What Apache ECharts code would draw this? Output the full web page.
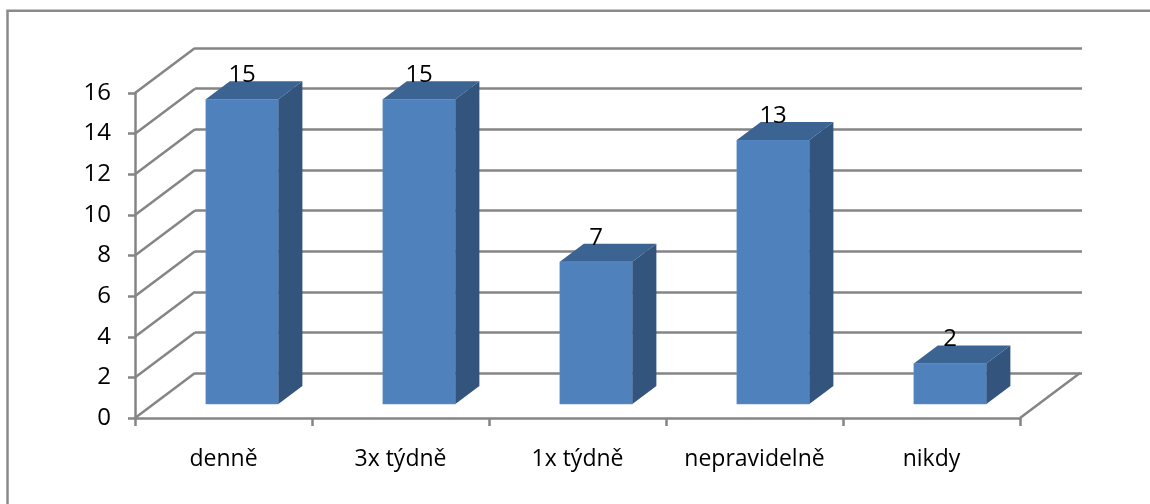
<!DOCTYPE html>
<html>
<head>
<meta charset="utf-8">
<script src="https://cdn.jsdelivr.net/npm/echarts@6/dist/echarts.min.js"></script>
<style>
  html, body { margin: 0; padding: 0; background: #fff; }
  #chart { width: 1150px; height: 504px; }
</style>
</head>
<body>
<div id="chart"></div>
<script>
var categories = ['denně', '3x týdně', '1x týdně', 'nepravidelně', 'nikdy'];
var values = [15, 15, 7, 13, 2];
var yTicks = [0, 2, 4, 6, 8, 10, 12, 14, 16];

// 3d look: depth of the floor and how far the bars sit inside it
var DEPTH_X = 60, DEPTH_Y = 45;
var BAR_FRONT = 0.31, BAR_DEPTH = 0.4, BAR_WIDTH = 0.41;
var GRID_COLOR = '#858585';
var LINE_W = 2.5;
var FONT = 'Open Sans';
var FONT_SIZE = 24;

var chart = echarts.init(document.getElementById('chart'));

function renderWall(params, api) {
  var cs = params.coordSys;
  var p = api.coord([0, api.value(0)]);
  var children = [{
    type: 'line',
    shape: { x1: cs.x, y1: p[1], x2: cs.x + DEPTH_X, y2: p[1] - DEPTH_Y },
    style: { stroke: GRID_COLOR, lineWidth: LINE_W }
  }];
  if (params.dataIndex === 0) {
    children.push({
      type: 'line',
      shape: { x1: cs.x + cs.width, y1: p[1], x2: cs.x + cs.width + DEPTH_X, y2: p[1] - DEPTH_Y },
      style: { stroke: GRID_COLOR, lineWidth: LINE_W }
    });
  }
  return { type: 'group', children: children };
}

function renderBar(params, api) {
  var top = api.coord([api.value(0), api.value(1)]);
  var base = api.coord([api.value(0), 0]);
  var cw = api.size([1, 0])[0];
  var bw = cw * BAR_WIDTH;
  var fx = top[0] - bw / 2 + BAR_FRONT * DEPTH_X;
  var fyTop = top[1] - BAR_FRONT * DEPTH_Y;
  var fyBot = base[1] - BAR_FRONT * DEPTH_Y;
  var dx = BAR_DEPTH * DEPTH_X, dy = BAR_DEPTH * DEPTH_Y;
  return {
    type: 'group',
    children: [
      {
        type: 'rect',
        shape: { x: fx, y: fyTop, width: bw, height: fyBot - fyTop },
        style: { fill: '#4F81BD', stroke: '#6b97cc', lineWidth: 0.5 }
      },
      {
        type: 'polygon',
        shape: { points: [[fx, fyTop], [fx + bw, fyTop], [fx + bw + dx, fyTop - dy], [fx + dx, fyTop - dy]] },
        style: { fill: '#3C6492' }
      },
      {
        type: 'polygon',
        shape: { points: [[fx + bw, fyTop], [fx + bw + dx, fyTop - dy], [fx + bw + dx, fyBot - dy], [fx + bw, fyBot]] },
        style: { fill: '#33547D' }
      },
      {
        type: 'text',
        style: {
          x: fx + bw / 2, y: fyTop - dy + 6,
          text: String(api.value(1)),
          align: 'center', verticalAlign: 'bottom',
          fill: '#000', font: FONT_SIZE + 'px "' + FONT + '"'
        }
      }
    ]
  };
}

chart.setOption({
  backgroundColor: '#fff',
  animation: false,
  graphic: [{
    type: 'rect',
    shape: { x: 7.5, y: 10.8, width: 1200, height: 600 },
    style: { fill: 'none', stroke: '#8a8a8a', lineWidth: 2.5 },
    z: 0
  }],
  grid: [
    { left: 135, top: 93, width: 885, height: 325 },
    { left: 195, top: 48, width: 887, height: 325 }
  ],
  xAxis: [{
    type: 'category',
    gridIndex: 0,
    data: categories,
    axisLine: { lineStyle: { color: GRID_COLOR, width: LINE_W } },
    axisTick: { show: true, interval: 0, length: 8, alignWithLabel: false, lineStyle: { color: GRID_COLOR, width: LINE_W } },
    axisLabel: { interval: 0, hideOverlap: false, color: '#000', fontFamily: FONT, fontSize: FONT_SIZE - 1, margin: 30 }
  }, {
    type: 'category',
    gridIndex: 1,
    data: categories,
    show: false
  }],
  yAxis: [{
    type: 'value',
    gridIndex: 0,
    min: 0, max: 16, interval: 2,
    axisLine: { show: true, lineStyle: { color: GRID_COLOR, width: LINE_W } },
    axisTick: { show: true, length: 7, lineStyle: { color: GRID_COLOR, width: LINE_W } },
    axisLabel: { color: '#000', fontFamily: FONT, fontSize: FONT_SIZE, margin: 24 },
    splitLine: { show: false }
  }, {
    type: 'value',
    gridIndex: 1,
    min: 0, max: 16, interval: 2,
    axisLine: { show: false },
    axisTick: { show: false },
    axisLabel: { show: false },
    splitLine: { show: true, lineStyle: { color: GRID_COLOR, width: LINE_W } }
  }],
  series: [{
    type: 'custom',
    xAxisIndex: 0, yAxisIndex: 0,
    renderItem: renderWall,
    data: yTicks.map(function (t) { return [t]; }),
    encode: { y: 0 },
    silent: true,
    z: 1
  }, {
    type: 'custom',
    xAxisIndex: 0, yAxisIndex: 0,
    renderItem: renderBar,
    data: values.map(function (v, i) { return [i, v]; }),
    encode: { x: 0, y: 1 },
    z: 3
  }]
});
</script>
</body>
</html>
